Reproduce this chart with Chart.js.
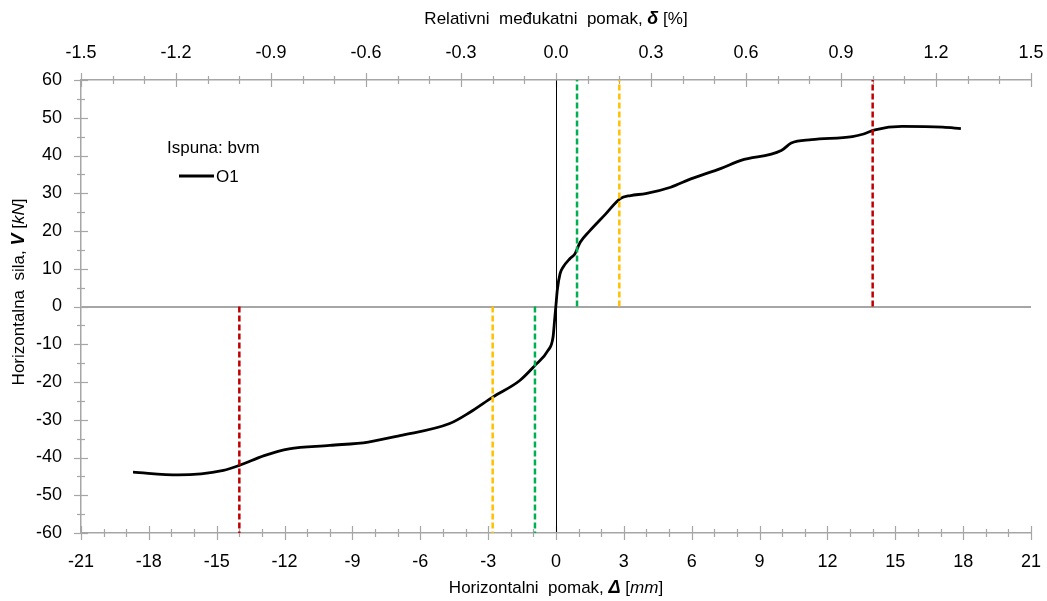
<!DOCTYPE html>
<html lang="hr">
<head>
  <meta charset="UTF-8">
  <title>Horizontalna sila - pomak</title>
  <script src="https://cdn.jsdelivr.net/npm/chart.js"></script>
  <style>
    body { margin: 0; background: #fff; }
    #wrap { width: 1047px; height: 601px; }
  </style>
</head>
<body>
  <div id="wrap"><canvas id="pushover"></canvas></div>

  <script>
    // O1 curve
    const dispMm = [-18.7, -16.7, -14.7, -14.0, -12.9, -11.8, -10.0, -8.3, -6.9, -4.7, -3.8, -2.8, -1.6,
      -0.93, -0.36, -0.13, -0.06, 0.0, 0.06, 0.18, 0.31, 0.62, 0.84, 1.07, 1.5, 2.18, 2.84, 3.3, 3.96,
      5.07, 5.96, 7.3, 8.18, 9.96, 10.4, 11.3, 13.1, 13.6, 14.1, 15.3, 17.1, 17.9];
    const forceKn = [-43.9, -44.6, -43.4, -42.1, -39.5, -37.7, -36.8, -35.9, -34.2, -31.0, -28.0, -24.0, -19.6,
      -15.6, -11.7, -8.1, -3.5, 0.5, 4.5, 8.7, 10.4, 12.7, 14.0, 17.0, 20.1, 24.4, 28.6, 29.4, 29.9,
      31.6, 33.8, 36.6, 38.7, 41.3, 43.3, 44.2, 45.0, 45.7, 46.8, 47.7, 47.5, 47.1];

    // limit state markers (mm), positive and negative side
    const redLimit = [-14, 14];
    const yellowLimit = [-2.8, 2.8];
    const greenLimit = [-0.93, 0.93];

    const xTicksMm = { min: -21, max: 21, step: 3, minor: 1 };
    const xTicksDrift = { min: -1.5, max: 1.5, step: 0.3, minor: 0.1 };
    const yTicksKn = { min: -60, max: 60, step: 10, minor: 5 };

    const FONT = '"Liberation Sans", Arial, sans-serif';
    const AXIS_GREY = '#a6a6a6';

    function limitLines(xs, color) {
      return xs.map(x => ({
        data: [{ x: x, y: 0 }, { x: x, y: x > 0 ? yTicksKn.max : yTicksKn.min }],
        showLine: true,
        borderColor: color,
        borderWidth: 2.5,
        borderDash: [6, 3],
        pointRadius: 0
      }));
    }

    // tick marks crossing the axis lines, with minor ticks
    // (drawn first so the zero lines and axis lines sit on top)
    const crossTicks = {
      id: 'crossTicks',
      beforeDraw(chart) {
        const ctx = chart.ctx;
        const defs = [
          ['x', xTicksMm, 'bottom'],
          ['x2', xTicksDrift, 'top'],
          ['y', yTicksKn, 'left']
        ];
        ctx.save();
        ctx.strokeStyle = AXIS_GREY;
        ctx.lineWidth = 1.2;
        defs.forEach(([id, t, side]) => {
          const s = chart.scales[id];
          const n = Math.round((t.max - t.min) / t.minor);
          const ratio = Math.round(t.step / t.minor);
          for (let i = 0; i <= n; i++) {
            const v = t.min + i * t.minor;
            const len = i % ratio === 0 ? 7 : 4;
            const p = Math.round(s.getPixelForValue(v)) + 0.5;
            ctx.beginPath();
            if (side === 'left') {
              const ax = chart.chartArea.left;
              ctx.moveTo(ax - len, p);
              ctx.lineTo(ax + len, p);
            } else {
              const ay = side === 'bottom' ? chart.chartArea.bottom : chart.chartArea.top;
              ctx.moveTo(p, ay - len);
              ctx.lineTo(p, ay + len);
            }
            ctx.stroke();
          }
        });
        ctx.restore();
      }
    };

    function drawRich(ctx, parts, cx, cy, rotate) {
      ctx.save();
      ctx.translate(cx, cy);
      if (rotate) ctx.rotate(-Math.PI / 2);
      let total = 0;
      parts.forEach(p => { ctx.font = p[1]; total += ctx.measureText(p[0]).width; });
      let x = -total / 2;
      ctx.fillStyle = '#000';
      ctx.textBaseline = 'middle';
      ctx.textAlign = 'left';
      parts.forEach(p => {
        ctx.font = p[1];
        ctx.fillText(p[0], x, 0);
        x += ctx.measureText(p[0]).width;
      });
      ctx.restore();
    }

    const nT = '17px ' + FONT;
    const biT = 'bold italic 18px ' + FONT;
    const iT = 'italic 17px ' + FONT;

    // axis titles with mixed styles + legend box
    const titlesAndLegend = {
      id: 'titlesAndLegend',
      afterDraw(chart) {
        const ctx = chart.ctx;
        const a = chart.chartArea;
        const cx = (a.left + a.right) / 2;
        drawRich(ctx, [['Relativni  međukatni  pomak, ', nT], ['δ', biT], [' [%]', nT]], cx, 19, false);
        drawRich(ctx, [['Horizontalni  pomak, ', nT], ['Δ', biT], [' [', nT], ['mm', iT], [']', nT]], cx, 588, false);
        drawRich(ctx, [['Horizontalna  sila, ', nT], ['V', biT], [' [', nT], ['kN', iT], [']', nT]], 19, 292, true);

        const ds = chart.data.datasets[chart.data.datasets.length - 1];
        ctx.save();
        ctx.fillStyle = '#000';
        ctx.font = nT;
        ctx.textBaseline = 'middle';
        ctx.fillText('Ispuna: bvm', a.left + 86, 148);
        ctx.strokeStyle = ds.borderColor;
        ctx.lineWidth = ds.borderWidth;
        ctx.beginPath();
        ctx.moveTo(a.left + 98, 176);
        ctx.lineTo(a.left + 133, 176);
        ctx.stroke();
        ctx.fillText(ds.label, a.left + 135, 177);
        ctx.restore();
      }
    };

    const tickFont = { family: FONT, size: 18 };

    // fixed box sizes so the plot area sits where the original one does
    function fitX(height) {
      return s => {
        s.height = height;
        s.paddingLeft = 0;
        s.paddingRight = 16;
      };
    }

    new Chart(document.getElementById('pushover'), {
      type: 'scatter',
      data: {
        datasets: [
          ...limitLines(redLimit, '#c00000'),
          ...limitLines(yellowLimit, '#ffc000'),
          ...limitLines(greenLimit, '#00b050'),
          {
            label: 'O1',
            data: dispMm.map((x, i) => ({ x: x, y: forceKn[i] })),
            showLine: true,
            borderColor: '#000',
            borderWidth: 2.8,
            pointRadius: 0,
            cubicInterpolationMode: 'monotone'
          }
        ]
      },
      options: {
        responsive: true,
        maintainAspectRatio: false,
        animation: false,
        layout: { padding: 0 },
        plugins: { legend: { display: false }, tooltip: { enabled: false } },
        scales: {
          x: {
            position: 'bottom',
            min: xTicksMm.min, max: xTicksMm.max,
            afterFit: fitX(68),
            ticks: { stepSize: xTicksMm.step, font: tickFont, color: '#000', padding: 18 },
            grid: {
              drawTicks: false,
              color: c => (c.tick && c.tick.value === 0 ? '#000' : 'transparent'),
              lineWidth: 1
            },
            border: { color: AXIS_GREY, width: 1.5 }
          },
          x2: {
            type: 'linear',
            position: 'top',
            min: xTicksDrift.min, max: xTicksDrift.max,
            afterFit: fitX(80),
            ticks: {
              stepSize: xTicksDrift.step, font: tickFont, color: '#000', padding: 16,
              callback: v => v.toFixed(1)
            },
            grid: { display: false, drawTicks: false },
            border: { color: AXIS_GREY, width: 1.5 }
          },
          y: {
            min: yTicksKn.min, max: yTicksKn.max,
            afterFit: s => { s.width = 81; s.paddingTop = 0; s.paddingBottom = 0; },
            ticks: { stepSize: yTicksKn.step, font: tickFont, color: '#000', padding: 19 },
            grid: {
              drawTicks: false,
              color: c => (c.tick && c.tick.value === 0 ? AXIS_GREY : 'transparent'),
              lineWidth: 2
            },
            border: { color: AXIS_GREY, width: 1.5 }
          }
        }
      },
      plugins: [crossTicks, titlesAndLegend]
    });
  </script>
</body>
</html>
